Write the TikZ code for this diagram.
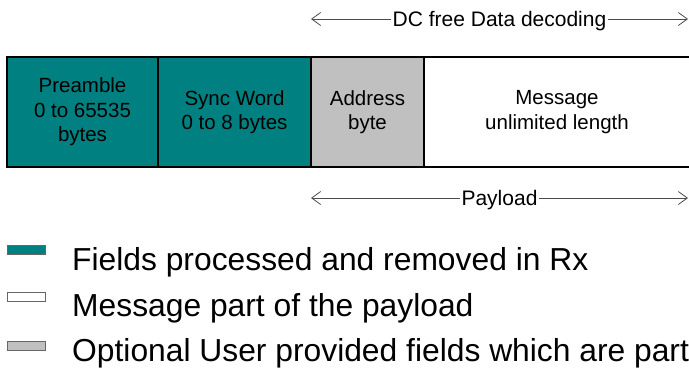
\documentclass[tikz,border=0pt]{standalone}
\usepackage{fontspec}
\setmainfont{Liberation Sans}
\usetikzlibrary{arrows.meta, positioning}
\definecolor{FieldTeal}{HTML}{008080}
\definecolor{FieldGray}{HTML}{C0C0C0}

\begin{document}
\begin{tikzpicture}[x=1pt, y=-1pt,
        % Campo del paquete
        fieldbox/.style={
                rectangle,
                draw=black,
                line width=1.2pt,
                minimum height=110pt,
                inner sep=0pt,
                outer sep=0pt,
                align=center,
                font=\fontsize{20.5}{24.5}\selectfont
            },
        % Flecha de rango
        spanarrow/.style={
                draw=black!70,
                line width=0.8pt,
                {Straight Barb[length=9pt,width=13pt]}-{Straight Barb[length=9pt,width=13pt]}
            },
        spanlabel/.style={
                fill=white,
                inner xsep=2pt,
                inner ysep=0pt,
                text height=15pt,
                text depth=0pt,
                font=\fontsize{21}{24}\selectfont
            },
        % Leyenda
        legendbox/.style={
                rectangle,
                draw=black!60,
                line width=0.8pt,
                minimum width=38pt,
                minimum height=9pt,
                inner sep=0pt
            },
        legendtext/.style={
                anchor=base west,
                inner sep=0pt,
                font=\fontsize{31.8}{36}\selectfont
            }
    ]

    \useasboundingbox (0,0) rectangle (689,368);

    % CAMPOS
    \node[fieldbox, fill=FieldTeal, minimum width=151pt, anchor=north west] (preamble) at (7,57) {Preamble\\0 to 65535\\bytes};
    \node[fieldbox, fill=FieldTeal, minimum width=153pt, right=0pt of preamble] (sync) {Sync Word\\0 to 8 bytes};
    \node[fieldbox, fill=FieldGray, minimum width=113pt, right=0pt of sync] (address) {Address\\byte};
    \node[fieldbox, fill=white, minimum width=266pt, right=0pt of address] (message) {Message\\unlimited length};

    % RANGOS
    \coordinate (dcL) at (address.west |- 0,19);
    \coordinate (dcR) at (688,19);
    \draw[spanarrow] (dcL) -- node[spanlabel] (dclabel) {DC free Data decoding} (dcR);

    \coordinate (payL) at (address.west |- 0,198);
    \coordinate (payR) at (688,198);
    \draw[spanarrow] (payL) -- node[spanlabel] (paylabel) {Payload} (payR);

    % LEYENDA
    \node[legendbox, fill=FieldTeal] (keyteal) at (26,250) {};
    \node[legendtext] (keytealtext) at (72,270) {Fields processed and removed in Rx};
    \node[legendbox, fill=white] (keywhite) at (26,297) {};
    \node[legendtext] (keywhitetext) at (72,316) {Message part of the payload};
    \node[legendbox, fill=FieldGray] (keygray) at (26,346) {};
    \node[legendtext] (keygraytext) at (72,361) {Optional User provided fields which are part};

\end{tikzpicture}
\end{document}
